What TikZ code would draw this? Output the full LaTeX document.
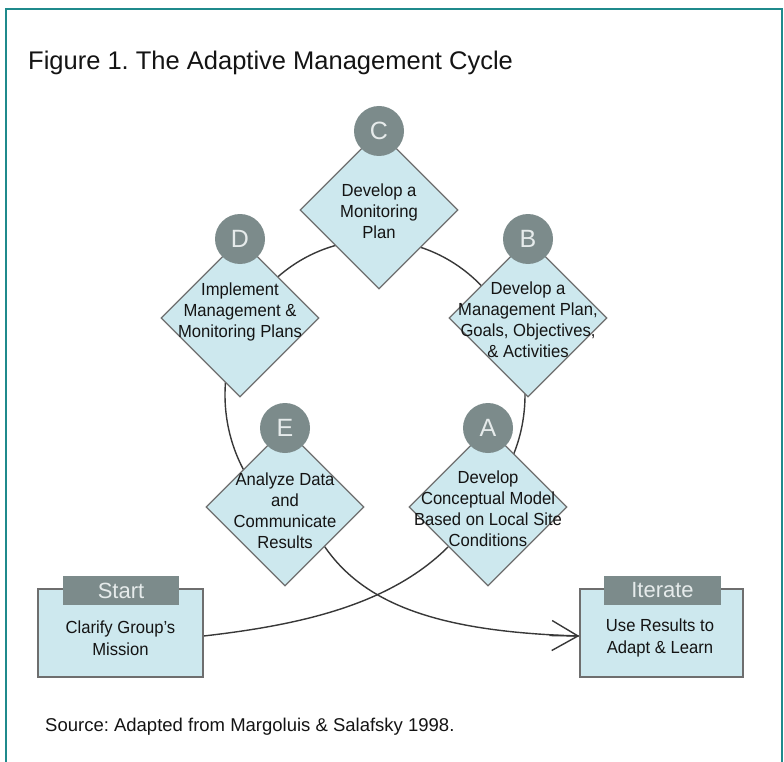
\documentclass[tikz,border=0pt]{standalone}
\usepackage{fontspec}
\setmainfont{Liberation Sans}
\newfontfamily\bodyf[FakeStretch=0.95]{Liberation Sans}
\usetikzlibrary{shapes.geometric,arrows.meta,calc}
\definecolor{frameteal}{HTML}{1F8A8C}
\definecolor{dfill}{HTML}{CDE8EE}
\definecolor{dborder}{HTML}{6E6E6E}
\definecolor{cfill}{HTML}{7C8B8B}
\definecolor{tabtext}{HTML}{E6EBEB}
\definecolor{linec}{HTML}{383838}
\definecolor{txt}{HTML}{141414}
\pgfdeclarelayer{bg}
\pgfsetlayers{bg,main}
\frenchspacing
\begin{document}
\begin{tikzpicture}[x=1pt,y=-1pt,
  diam/.style={shape=diamond, aspect=1, minimum width=158pt, minimum height=158pt,
    inner sep=0pt, fill=dfill, draw=dborder, line width=1.2pt},
  dtext/.style={align=center, text=txt, inner sep=0pt,
    font=\bodyf\fontsize{17.5}{21}\selectfont},
  badge/.style={circle, minimum size=50pt, inner sep=0pt, fill=cfill, text=tabtext,
    font=\fontsize{25}{25}\selectfont},
  boxn/.style={rectangle, minimum height=88pt, inner sep=0pt, fill=dfill,
    draw=dborder, line width=1.3pt},
  tabn/.style={rectangle, minimum height=29pt, inner sep=0pt, fill=cfill, text=tabtext,
    font=\fontsize{22}{22}\selectfont},
  btext/.style={align=center, text=txt, inner sep=0pt,
    font=\bodyf\fontsize{17.5}{22}\selectfont},
  conn/.style={draw=linec, line width=1.4pt}]
\useasboundingbox (0,0) rectangle (784,762);
\begin{pgfonlayer}{bg}
\fill[white] (0,0) rectangle (784,762);
\end{pgfonlayer}
\draw[frameteal, line width=2.5pt] (6,762) -- (6,9) -- (782,9) -- (782,762);

\node[anchor=base west, text=txt, inner sep=0pt, font=\fontsize{25.5}{30}\selectfont] (title) at (28,70)
  {Figure 1. The Adaptive Management Cycle};

% diamonds
\node[diam] (C) at (379,210) {};
\node[diam] (D) at (240,318) {};
\node[diam] (B) at (528,318) {};
\node[diam] (E) at (285,507) {};
\node[diam] (A) at (488,507) {};

\node[dtext] (Ct) at (379,211) {Develop a\\Monitoring\\Plan};
\node[dtext] (Dt) at (240,312) {Implement\\Management \&\\Monitoring Plans};
\node[dtext] (Bt) at (528,320) {Develop a\\Management Plan,\\Goals, Objectives,\\\& Activities};
\node[dtext] (Et) at (285,511) {Analyze Data\\and\\Communicate\\Results};
\node[dtext] (At) at (488,509) {Develop\\Conceptual Model\\Based on Local Site\\Conditions};

% badges
\node[badge] (Cb) at (379,131) {C};
\node[badge] (Db) at (240,239) {D};
\node[badge] (Bb) at (528,239) {B};
\node[badge] (Eb) at (285,428) {E};
\node[badge] (Ab) at (488,428) {A};

% boxes
\node[boxn, minimum width=165pt] (Start) at (120.5,633) {};
\node[boxn, minimum width=163pt] (Iter) at (661.5,633) {};
\node[tabn, minimum width=116pt] (StartTab) at (121,590.5) {Start};
\node[tabn, minimum width=117pt] (IterTab) at (662.5,590.5) {Iterate};
\node[btext] (Startt) at (120.5,638) {Clarify Group’s\\Mission};
\node[btext] (Itert) at (660,638) {Use Results to\\Adapt \& Learn};

\node[anchor=base west, text=txt, inner sep=0pt, font=\fontsize{18.5}{22}\selectfont] (src) at (45,731)
  {Source: Adapted from Margoluis \& Salafsky 1998.};

% connectors
\coordinate (cyc) at (375,395);
\begin{pgfonlayer}{bg}
\draw[conn] ([shift={(130:150 and 155)}]cyc) arc[start angle=130, end angle=410, x radius=150, y radius=155];
\draw[conn] (E.south east) .. controls (365,605) and (440,632) .. ($(Iter.west)+(0,3)$);
\draw[conn] ($(Start.east)+(0,3)$) .. controls (300,625) and (390,605) .. (A.south west);
\end{pgfonlayer}
\draw[conn, -{Straight Barb[length=26pt,width=30pt]}] ($(Iter.west)+(-30,2.5)$) -- ($(Iter.west)+(0,3)$);
\end{tikzpicture}
\end{document}
